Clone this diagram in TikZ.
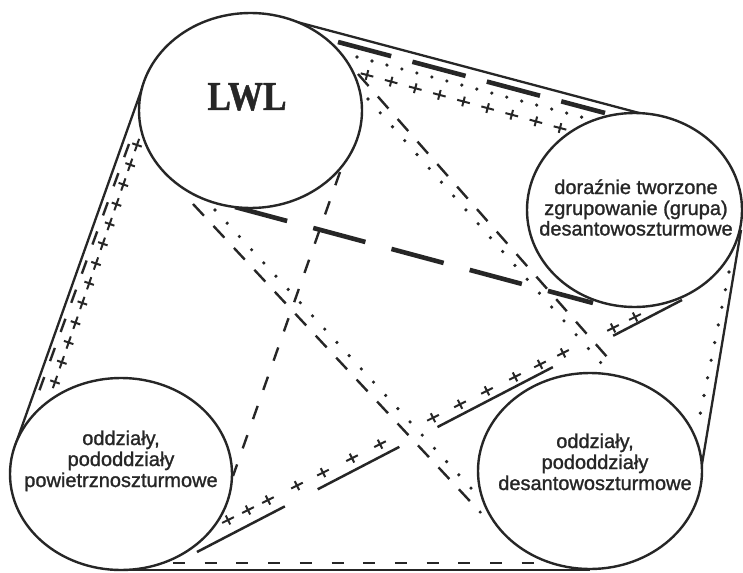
\documentclass[tikz,border=0pt]{standalone}
\usepackage{fontspec}
\setmainfont{Liberation Sans}
\newfontfamily\txtfont{Liberation Sans}[FakeBold=1.2]
\newfontfamily\lwlfont{Liberation Serif}[FakeBold=1.2]
\usetikzlibrary{shapes.geometric,calc}
\pgfdeclarelayer{bg}
\pgfsetlayers{bg,main}
\colorlet{ink}{black!85}
\tikzset{
  ell/.style={ellipse, draw=ink, line width=2.4pt, fill=white, inner sep=0pt, outer sep=0pt},
  txt/.style={anchor=base, inner sep=0pt, text=ink, font=\txtfont\fontsize{20}{22}\selectfont},
  hull/.style={draw=ink, line width=2.3pt},
  thickdash/.style={draw=ink, line width=4.6pt},
  shortdash/.style={draw=ink, line width=2.4pt, dash pattern=on 14pt off 17pt},
  dotline/.style={draw=ink, line width=3.6pt, line cap=round, dash pattern=on 0pt off 15.5pt},
  longdash/.style={draw=ink, line width=2.5pt, dash pattern=on 99pt off 37pt on 92pt off 43pt on 130pt off 68pt on 80pt},
  crossmark/.pic={\draw[ink, line width=2pt] (-6.5pt,0)--(6.5pt,0) (0,-5pt)--(0,5pt);}
}
\begin{document}
\begin{tikzpicture}[x=1pt,y=-1pt]
\useasboundingbox (0,0) rectangle (743,572);
\begin{pgfonlayer}{bg}
\fill[white] (0,0) rectangle (743,572);
\end{pgfonlayer}

% ellipses (nodes)
\node[ell, minimum width=223pt, minimum height=195pt] (lwl) at (250.5,110.5) {};
\node[ell, minimum width=215pt, minimum height=194pt] (grp) at (634.5,210) {};
\node[ell, minimum width=222pt, minimum height=192pt] (pow) at (121,474) {};
\node[ell, minimum width=224pt, minimum height=196pt] (des) at (590,471) {};

% texts
\node[anchor=base, inner sep=0pt, text=ink] (lwltxt) at (247,110) {\fontsize{41}{41}\selectfont\lwlfont\bfseries\scalebox{0.86}[1]{LWL}};
\node[txt] (g1) at (636,194) {doraźnie tworzone};
\node[txt] (g2) at (636,215) {zgrupowanie (grupa)};
\node[txt] (g3) at (636,235.5) {desantowoszturmowe};
\node[txt] (p1) at (121,445) {oddziały,};
\node[txt] (p2) at (121,466) {pododdziały};
\node[txt] (p3) at (121,487) {powietrznoszturmowe};
\node[txt] (d1) at (595,448) {oddziały,};
\node[txt] (d2) at (595,469) {pododdziały};
\node[txt] (d3) at (595,490) {desantowoszturmowe};

% named end points
\coordinate (hT1) at (282,18);   \coordinate (hT2) at (664,119.6);
\coordinate (hL1) at (145,80);   \coordinate (hL2) at (15,446);
\coordinate (hR1) at (741,230);  \coordinate (hR2) at (701,470);
\coordinate (hB1) at (121,570);  \coordinate (hB2) at (590,570);
\coordinate (tdU1) at (338,42);  \coordinate (tdU2) at (605,113);
\coordinate (tdD1) at (235,207); \coordinate (tdD2) at (593,303);
\coordinate (dtT1) at (357,57);  \coordinate (dtT2) at (585,118);
\coordinate (dtR1) at (729,272); \coordinate (dtR2) at (699,420);
\coordinate (dtA1) at (368,99);  \coordinate (dtA2) at (602,364);
\coordinate (dtB1) at (215,210); \coordinate (dtB2) at (482,500);
\coordinate (sdL1) at (129,144); \coordinate (sdL2) at (37,397);
\coordinate (sdI1) at (340,172); \coordinate (sdI2) at (233,476);
\coordinate (sdB1) at (173,563); \coordinate (sdB2) at (557,563);
\coordinate (sdA1) at (358,74);  \coordinate (sdA2) at (615,366);
\coordinate (sdC1) at (193,204); \coordinate (sdC2) at (481,513);
\coordinate (ld1) at (197,552);  \coordinate (ld2) at (682,300);
\coordinate (cxT1) at (367,75);  \coordinate (cxT2) at (560,128);
\coordinate (cxL1) at (137,145); \coordinate (cxL2) at (55,382);

\begin{pgfonlayer}{bg}
% outer solid lines
\draw[hull] (hT1) -- (hT2);
\draw[hull] (hL1) -- (hL2);
\draw[hull] (hR1) -- (hR2);
\draw[hull] (hB1) -- (hB2);
% thick long dashes LWL - grupa
\draw[thickdash, dash pattern=on 55pt off 22pt] (tdU1) -- (tdU2);
\draw[thickdash, dash pattern=on 54pt off 27pt] (tdD1) -- (tdD2);
% dotted
\draw[dotline] (dtT1) -- (dtT2);
\draw[dotline, dash pattern=on 0pt off 18pt] (dtR1) -- (dtR2);
\draw[dotline, dash pattern=on 0pt off 18.5pt] (dtA1) -- (dtA2);
\draw[dotline, dash pattern=on 0pt off 18pt] (dtB1) -- (dtB2);
% short dashes
\draw[shortdash] (sdL1) -- (sdL2);
\draw[shortdash] (sdI1) -- (sdI2);
\draw[shortdash, line width=2.6pt, dash pattern=on 12pt off 19.7pt] (sdB1) -- (sdB2);
\draw[shortdash, dash pattern=on 16pt off 14pt] (sdA1) -- (sdA2);
\draw[shortdash, dash pattern=on 16pt off 14pt] (sdC1) -- (sdC2);
% long thin dashes powietrzno - grupa
\draw[longdash] (ld1) -- (ld2);
% crosses
\foreach \t in {0,...,8} \pic[rotate=-14.9] at ($(cxT1)!\t/8!(cxT2)$) {crossmark};
\foreach \t in {0,...,12} \pic[rotate=70.9] at ($(cxL1)!\t/12!(cxL2)$) {crossmark};
\foreach \x in {228,248,268,297,323,352,380,433,460,487,515,540,563,613,635}
  \pic[rotate=26.5] at (\x,{520-(\x-228)*0.4988}) {crossmark};
\end{pgfonlayer}
\end{tikzpicture}
\end{document}
